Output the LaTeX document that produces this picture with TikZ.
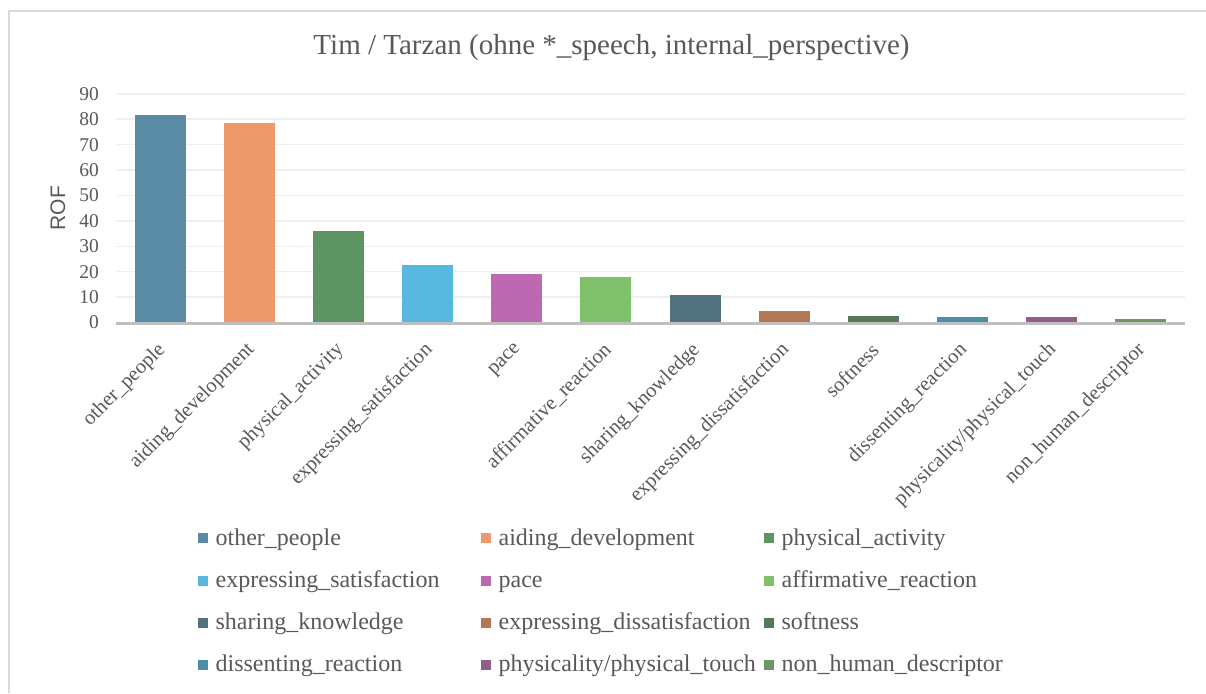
\documentclass[tikz,border=0pt]{standalone}
\usepackage{fontspec}
\setmainfont{Liberation Serif}
\setsansfont{Liberation Sans}
\usepackage{tikz}
\usetikzlibrary{positioning}
\definecolor{txt}{HTML}{595959}
\definecolor{gridc}{HTML}{EFEFEF}
\definecolor{axisc}{HTML}{BFBFBF}
\definecolor{framec}{HTML}{D9D9D9}
\definecolor{c1}{HTML}{5B8CA6}
\definecolor{c2}{HTML}{EE996C}
\definecolor{c3}{HTML}{5D9461}
\definecolor{c4}{HTML}{58B8E0}
\definecolor{c5}{HTML}{BC69B2}
\definecolor{c6}{HTML}{7FC06B}
\definecolor{c7}{HTML}{52717E}
\definecolor{c8}{HTML}{B47754}
\definecolor{c9}{HTML}{557A5A}
\definecolor{c10}{HTML}{4E8EA8}
\definecolor{c11}{HTML}{8F5E8C}
\definecolor{c12}{HTML}{6C9762}

\begin{document}
\begin{tikzpicture}[x=1pt, y=-1pt,
    lbl/.style = {text=txt, inner sep=0},
    tick/.style = {lbl, anchor=east, font=\fontsize{19.5}{20}\selectfont},
    cat/.style = {lbl, anchor=east, rotate=45, font=\fontsize{20.5}{21}\selectfont},
    leg/.style = {lbl, anchor=base west, font=\fontsize{24}{25}\selectfont},
    key/.style = {minimum size=10pt, inner sep=0, anchor=west}]
  \useasboundingbox (0,0) rectangle (1206,693);
  \fill[white] (0,0) rectangle (1206,693);
  \draw[framec, line width=2pt] (9,693) |- (1206,11);
  \node[lbl, anchor=base, font=\fontsize{29}{30}\selectfont] (title) at (611.5,55) {Tim / Tarzan (ohne *\_speech, internal\_perspective)};
  \node[text=txt, inner sep=0, rotate=90, font=\sffamily\fontsize{21}{22}\selectfont] (rof) at (58,208) {ROF};
  \foreach \t in {10,20,...,90}
    \draw[gridc, line width=1.5pt] (116,{322.5-2.541*\t}) -- (1185,{322.5-2.541*\t});
  \foreach \t in {0,10,...,90}
    \node[tick] (y\t) at (99,{322.5-2.541*\t}) {\t};
  %% bars, category labels and legend
  \foreach \i/\v/\c/\lab in {1/81.7/c1/other\_people, 2/78.5/c2/aiding\_development,
      3/36.0/c3/physical\_activity, 4/22.6/c4/expressing\_satisfaction, 5/19.1/c5/pace,
      6/17.9/c6/affirmative\_reaction, 7/10.8/c7/sharing\_knowledge,
      8/4.5/c8/expressing\_dissatisfaction, 9/2.6/c9/softness, 10/2.2/c10/dissenting\_reaction,
      11/2.2/c11/{physicality/physical\_touch}, 12/1.4/c12/non\_human\_descriptor} {
    \pgfmathsetmacro{\xc}{116+89.08*(\i-0.5)}
    \pgfmathtruncatemacro{\col}{mod(\i-1,3)}
    \pgfmathtruncatemacro{\row}{(\i-1)/3}
    \fill[\c] (\xc-25.5,322.5) rectangle ++(51,-2.541*\v);
    \node[cat] (x\i) at (\xc+2,347) {\lab};
    \node[key, fill=\c] (k\i) at (198+283*\col,538.3+42.2*\row) {};
    \node[leg] (t\i) at ([xshift=7pt, yshift=-7pt]k\i.east) {\lab};
  }
  \draw[axisc, line width=3pt] (116,323.5) -- (1185,323.5);
\end{tikzpicture}
\end{document}
